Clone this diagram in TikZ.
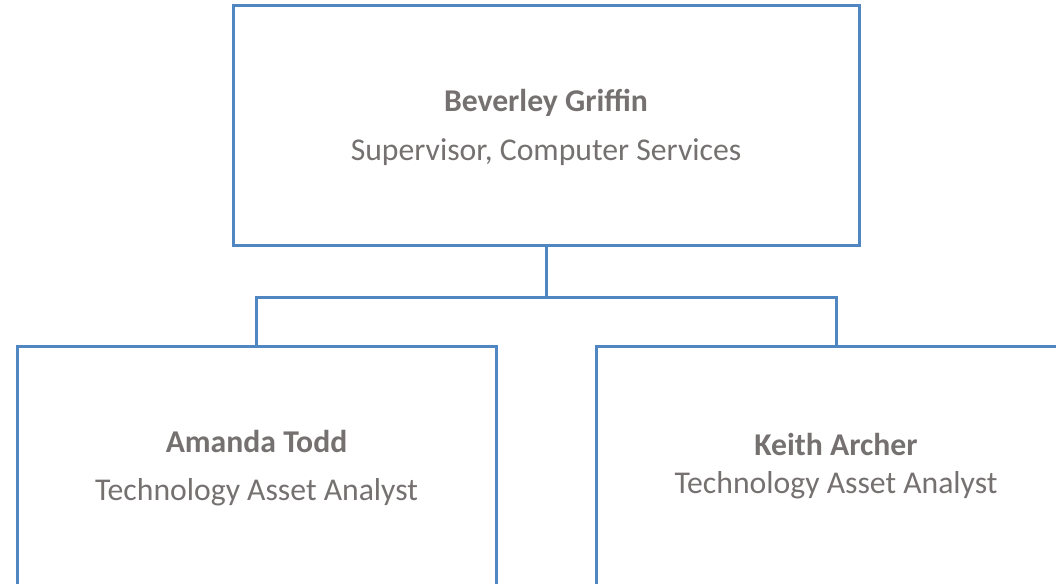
\documentclass[tikz,border=0pt]{standalone}
\usepackage{fontspec}
\setmainfont{Carlito}
\definecolor{boxblue}{RGB}{80,134,193}
\definecolor{txtgray}{RGB}{118,113,113}
\begin{document}
\begin{tikzpicture}[x=1pt,y=-1pt,
  orgbox/.style={draw=boxblue,line width=3pt,fill=white,inner sep=0pt},
  link/.style={draw=boxblue,line width=3pt},
  namelbl/.style={anchor=base,text=txtgray,font=\fontsize{31.7}{38}\selectfont\bfseries,inner sep=0pt},
  rolelbl/.style={anchor=base,text=txtgray,font=\fontsize{31.7}{38}\selectfont,inner sep=0pt}]
\useasboundingbox (0,0) rectangle (1056,583);
\node[orgbox,minimum width=626pt,minimum height=239pt] (top) at (546,125.5) {};
\node[orgbox,minimum width=479pt,minimum height=300pt] (left) at (256.5,496) {};
\node[orgbox,minimum width=480pt,minimum height=300pt] (right) at (836,496) {};
\draw[link] (top.south) -- ++(0,50.5) coordinate (mid) -| (left.north);
\draw[link] (mid) -| (right.north);
\node[namelbl] (n1) at (546,111) {Beverley Griffin};
\node[rolelbl] (r1) at (546,160) {Supervisor, Computer Services};
\node[namelbl] (n2) at (256.5,452) {Amanda Todd};
\node[rolelbl] (r2) at (256.5,500) {Technology Asset Analyst};
\node[namelbl] (n3) at (836,455) {Keith Archer};
\node[rolelbl] (r3) at (836,493.5) {Technology Asset Analyst};
\end{tikzpicture}
\end{document}
